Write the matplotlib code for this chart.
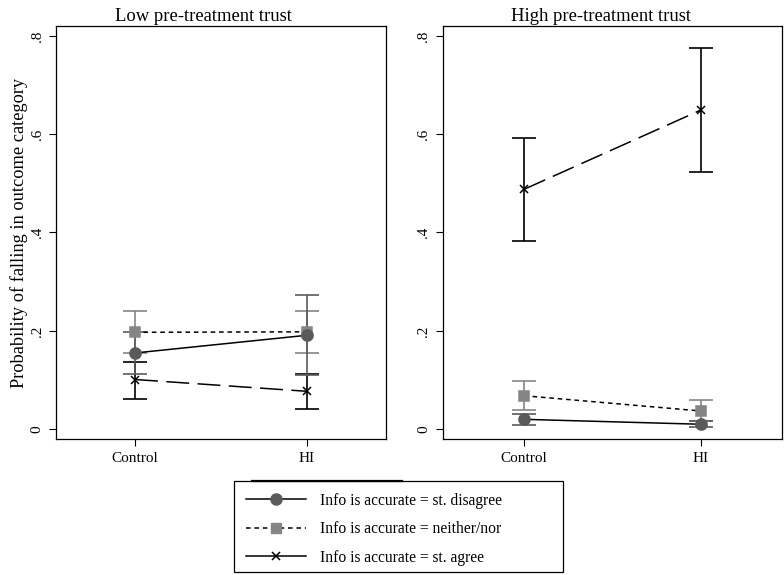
import matplotlib
matplotlib.use("Agg")
import matplotlib.pyplot as plt
from matplotlib.lines import Line2D
from matplotlib.patches import Rectangle

plt.rcParams['font.family'] = ['Liberation Serif', 'DejaVu Serif']

# datos
groups = ["Control", "HI"]
panels = ["Low pre-treatment trust", "High pre-treatment trust"]

# baja confianza
low_disagree = [0.155, 0.191]
low_disagree_lo = [0.112, 0.110]
low_disagree_hi = [0.198, 0.272]
low_neither = [0.197, 0.198]
low_neither_lo = [0.154, 0.155]
low_neither_hi = [0.240, 0.241]
low_agree = [0.101, 0.077]
low_agree_lo = [0.062, 0.041]
low_agree_hi = [0.136, 0.113]

# alta confianza
high_disagree = [0.020, 0.010]
high_disagree_lo = [0.009, 0.004]
high_disagree_hi = [0.031, 0.016]
high_neither = [0.068, 0.037]
high_neither_lo = [0.039, 0.016]
high_neither_hi = [0.098, 0.059]
high_agree = [0.488, 0.649]
high_agree_lo = [0.382, 0.523]
high_agree_hi = [0.593, 0.775]

yticks = [0, 0.2, 0.4, 0.6, 0.8]
yticklabels = ["0", ".2", ".4", ".6", ".8"]

legend_labels = ["Info is accurate = st. disagree",
                 "Info is accurate = neither/nor",
                 "Info is accurate = st. agree"]

c_circ = "#5a5a5a"
c_sq = "#858585"

fig = plt.figure(figsize=(7.84, 5.75), dpi=100)
ax1 = fig.add_axes([56/784, 136/575, 330/784, 413/575])
ax2 = fig.add_axes([443/784, 136/575, 339/784, 413/575])

x = [0, 1]


def draw_series(ax, est, lo, hi, color, ls, marker, ms):
    err = [[e - l for e, l in zip(est, lo)], [h - e for e, h in zip(est, hi)]]
    ax.errorbar(x, est, yerr=err, fmt="none", ecolor=color, elinewidth=1.2,
                capsize=8.5, capthick=1.2, zorder=2)
    ax.plot(x, est, color="black", linestyle=ls, linewidth=1.1, zorder=3)
    mc = color if marker != "x" else "black"
    ax.plot(x, est, linestyle="none", marker=marker, markersize=ms,
            color=mc, markeredgewidth=1.1, zorder=4)


data = [
    (low_disagree, low_disagree_lo, low_disagree_hi,
     low_neither, low_neither_lo, low_neither_hi,
     low_agree, low_agree_lo, low_agree_hi),
    (high_disagree, high_disagree_lo, high_disagree_hi,
     high_neither, high_neither_lo, high_neither_hi,
     high_agree, high_agree_lo, high_agree_hi),
]

dotted = (0, (3, 2.5))
longdash = (0, (15, 5.5))

# titulos centrados sobre cada subgrafico (incluye eje y)
title_x = [203/784, 601/784]

for ax, title, d, tx in zip([ax1, ax2], panels, data, title_x):
    draw_series(ax, d[6], d[7], d[8], "black", longdash, "x", 6)
    draw_series(ax, d[3], d[4], d[5], c_sq, dotted, "s", 7.5)
    draw_series(ax, d[0], d[1], d[2], c_circ, "-", "o", 8)

    ax.set_xlim(-0.46, 1.46)
    ax.set_ylim(-0.02, 0.82)
    ax.set_xticks(x)
    ax.set_xticklabels(groups, fontsize=11)
    ax.set_yticks(yticks)
    ax.set_yticklabels(yticklabels, rotation=90, va="center", fontsize=11)
    ax.tick_params(direction="out", length=5, width=0.8, pad=4)
    fig.text(tx, 1 - 21/575, title, fontsize=13.4, ha="center", va="baseline")
    for s in ax.spines.values():
        s.set_linewidth(0.9)

ax1.set_ylabel("Probability of falling in outcome category", fontsize=13.2, labelpad=1.5)

handles = [
    Line2D([], [], color="black", linestyle="-", marker="o", markersize=8,
           markerfacecolor=c_circ, markeredgecolor=c_circ, linewidth=1.1),
    Line2D([], [], color="black", linestyle=dotted, marker="s", markersize=7.5,
           markerfacecolor=c_sq, markeredgecolor=c_sq, linewidth=1.1),
    Line2D([], [], color="black", linestyle="-", marker="x", markersize=6,
           markeredgewidth=1.1, linewidth=1.1),
]
leg = fig.legend(handles, legend_labels, loc="upper left",
                 bbox_to_anchor=(234/784, 1 - 481/575),
                 fontsize=11.2, frameon=False,
                 handlelength=3.9, handletextpad=0.9, borderpad=0.75,
                 labelspacing=0.8, borderaxespad=0)

# marco de la leyenda (mas ancho que el contenido, como en el original)
fig.add_artist(Rectangle((234/784, 1 - 572/575), 329/784, 91/575,
                         transform=fig.transFigure, fill=False,
                         edgecolor="black", linewidth=0.9))
# trazo grueso sobre el borde superior de la leyenda
fig.add_artist(Line2D([252/784, 402/784], [1 - 481/575, 1 - 481/575],
                      color="black", linewidth=1.6))

fig.savefig("out.png", dpi=100)
